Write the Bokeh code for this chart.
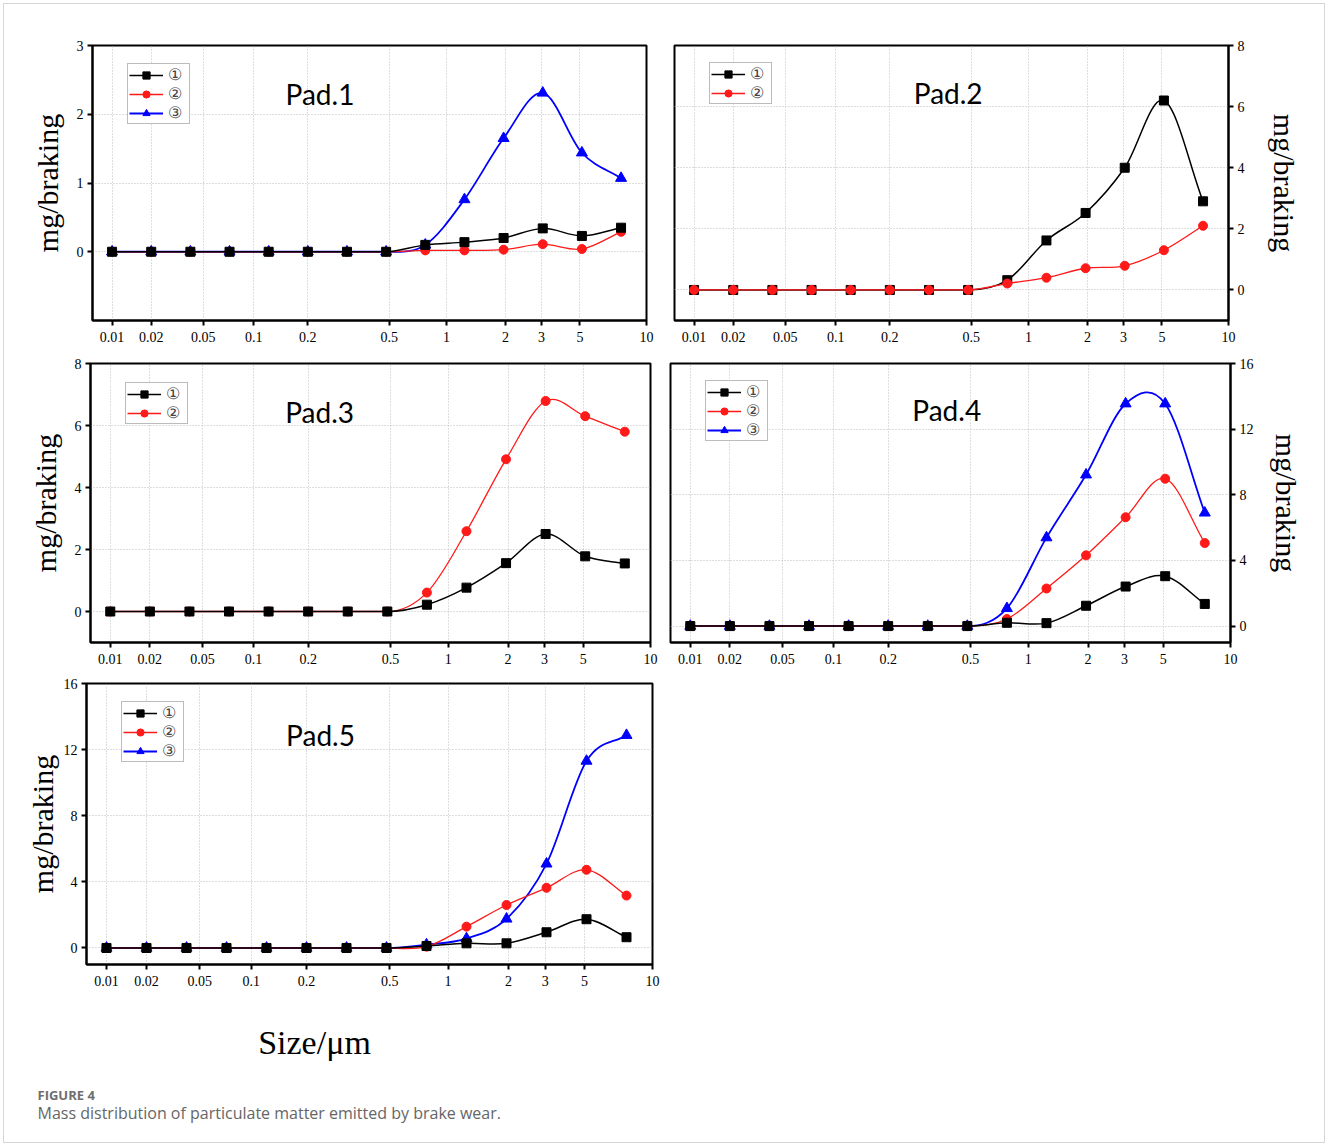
import numpy as np
from bokeh.plotting import figure
from bokeh.layouts import column, row
from bokeh.models import (Range1d, FixedTicker, Legend, LegendItem, Label,
                          ColumnDataSource)
from bokeh.embed import file_html
from bokeh.resources import INLINE

# ---------------- data ----------------
size_labels = ["0.01", "0.02", "0.05", "0.1", "0.2", "0.5", "1", "2", "3", "5", "10"]
size_tick_pos = [0.0, 1.0, 2.33, 3.62, 5.0, 7.08, 8.54, 10.05, 10.97, 11.95, 13.65]
stage = [0, 1, 2, 3, 4, 5, 6, 7, 8, 9, 10, 11, 12, 13]  # impactor stages, equally spaced

pad1_s1 = [0, 0, 0, 0, 0, 0, 0, 0, 0.10, 0.14, 0.20, 0.34, 0.23, 0.35]
pad1_s2 = [0, 0, 0, 0, 0, 0, 0, 0, 0.02, 0.02, 0.03, 0.11, 0.04, 0.29]
pad1_s3 = [0, 0, 0, 0, 0, 0, 0, 0, 0.10, 0.76, 1.65, 2.31, 1.44, 1.07]

pad2_s1 = [0, 0, 0, 0, 0, 0, 0, 0, 0.32, 1.62, 2.52, 4.00, 6.20, 2.90]
pad2_s2 = [0, 0, 0, 0, 0, 0, 0, 0, 0.21, 0.40, 0.71, 0.79, 1.30, 2.10]

pad3_s1 = [0, 0, 0, 0, 0, 0, 0, 0, 0.22, 0.77, 1.56, 2.50, 1.78, 1.55]
pad3_s2 = [0, 0, 0, 0, 0, 0, 0, 0, 0.61, 2.59, 4.91, 6.79, 6.30, 5.80]

pad4_s1 = [0, 0, 0, 0, 0, 0, 0, 0, 0.20, 0.18, 1.24, 2.41, 3.04, 1.35]
pad4_s2 = [0, 0, 0, 0, 0, 0, 0, 0, 0.43, 2.29, 4.31, 6.63, 8.98, 5.06]
pad4_s3 = [0, 0, 0, 0, 0, 0, 0, 0, 1.08, 5.39, 9.22, 13.55, 13.55, 6.90]

pad5_s1 = [0, 0, 0, 0, 0, 0, 0, 0, 0.12, 0.28, 0.28, 0.95, 1.74, 0.65]
pad5_s2 = [0, 0, 0, 0, 0, 0, 0, 0, 0.08, 1.29, 2.60, 3.64, 4.73, 3.17]
pad5_s3 = [0, 0, 0, 0, 0, 0, 0, 0, 0.20, 0.57, 1.76, 5.09, 11.31, 12.87]

series_labels = ["\u2460", "\u2461", "\u2462"]
# ----------------------------------------------------------------

STYLE = {
    0: dict(color="#000000", marker="square", size=9, lw=1.5),
    1: dict(color="#ff1a1a", marker="circle", size=9, lw=1.3),
    2: dict(color="#0000ff", marker="triangle", size=11, lw=1.8),
}
SERIF = "Liberation Serif"


def smooth_source(xs, ys):
    """Cubic Bezier segments through the data points (Catmull-Rom tangents)."""
    x = np.asarray(xs, float)
    y = np.asarray(ys, float)
    n = len(x)
    m = np.zeros(n)
    for i in range(n):
        if i == 0:
            m[i] = (y[1] - y[0]) / (x[1] - x[0])
        elif i == n - 1:
            m[i] = (y[-1] - y[-2]) / (x[-1] - x[-2])
        elif y[i - 1] == 0 and y[i] == 0:
            m[i] = 0.0
        else:
            m[i] = (y[i + 1] - y[i - 1]) / (x[i + 1] - x[i - 1])
    dx = x[1:] - x[:-1]
    return ColumnDataSource(dict(
        x0=x[:-1], y0=y[:-1], x1=x[1:], y1=y[1:],
        cx0=x[:-1] + dx / 3, cy0=y[:-1] + m[:-1] * dx / 3,
        cx1=x[1:] - dx / 3, cy1=y[1:] - m[1:] * dx / 3))


def make_panel(width, height, borders, yrange, yticks, side, series, order,
               pad_text, pad_xy, legend_top, label_standoff):
    left, right, top, bottom = borders
    p = figure(width=width, height=height,
               x_range=Range1d(-0.5, 13.65), y_range=Range1d(*yrange),
               y_axis_location=side, output_backend="svg", toolbar_location=None,
               min_border_left=left, min_border_right=right,
               min_border_top=top, min_border_bottom=bottom)
    p.background_fill_color = "white"
    p.border_fill_color = None
    p.outline_line_color = "black"
    p.outline_line_width = 2

    p.xaxis.ticker = FixedTicker(ticks=size_tick_pos)
    p.xaxis.major_label_overrides = {pos: lab for pos, lab in zip(size_tick_pos, size_labels)}
    p.yaxis.ticker = FixedTicker(ticks=yticks)
    for ax in p.axis:
        ax.axis_line_width = 2
        ax.axis_line_color = "black"
        ax.major_tick_line_width = 2
        ax.major_tick_out = 5
        ax.major_tick_in = 0
        ax.minor_tick_out = 0
        ax.minor_tick_in = 0
        ax.major_label_text_font = SERIF
        ax.major_label_text_font_size = "14px"
        ax.major_label_text_color = "black"
    p.xaxis.major_label_standoff = 6
    p.yaxis.major_label_standoff = 4
    p.yaxis.axis_label = "mg/braking"
    p.yaxis.axis_label_text_font = SERIF
    p.yaxis.axis_label_text_font_size = "30px"
    p.yaxis.axis_label_text_font_style = "normal"
    p.yaxis.axis_label_text_color = "black"
    p.yaxis.axis_label_standoff = label_standoff

    p.xgrid.ticker = FixedTicker(ticks=size_tick_pos)
    p.ygrid.ticker = FixedTicker(ticks=yticks)
    for g in p.grid:
        g.grid_line_color = "#bdbdbd"
        g.grid_line_dash = "1 2"
        g.grid_line_width = 1

    rends = {}
    for k in order:
        st = STYLE[k]
        src = smooth_source(stage, series[k])
        b = p.bezier(x0="x0", y0="y0", x1="x1", y1="y1", cx0="cx0", cy0="cy0",
                     cx1="cx1", cy1="cy1", source=src,
                     line_color=st["color"], line_width=st["lw"])
        s = p.scatter(stage, series[k], marker=st["marker"], size=st["size"],
                      fill_color=st["color"], line_color=st["color"])
        rends[k] = [b, s]

    items = [LegendItem(label=series_labels[k], renderers=rends[k]) for k in range(len(series))]
    n = len(series)
    frame_h = height - top - bottom
    leg_h = 3 + 18 * n
    legend = Legend(items=items, location=(35, frame_h - legend_top - leg_h),
                    label_text_font=SERIF, label_text_font_size="16px",
                    glyph_width=34, glyph_height=18, label_height=18,
                    label_standoff=5, padding=1, spacing=0, margin=0,
                    border_line_color="#7a7a7a", border_line_width=1,
                    background_fill_color="white", background_fill_alpha=1)
    p.add_layout(legend)

    p.add_layout(Label(x=pad_xy[0], y=pad_xy[1], text=pad_text, text_font="Lato",
                       text_font_size="28px", text_align="center",
                       text_baseline="middle", text_color="black"))
    return p


p1 = make_panel(660, 350, (92, 14, 45, 30), (-1, 3), [0, 1, 2, 3], "left",
                [pad1_s1, pad1_s2, pad1_s3], [2, 1, 0], "Pad.1", (5.31, 2.30), 22, 10)
p2 = make_panel(668, 350, (14, 100, 45, 28), (-1, 8), [0, 2, 4, 6, 8], "right",
                [pad2_s1, pad2_s2], [0, 1], "Pad.2", (6.49, 6.45), 22, 20)
p3 = make_panel(660, 322, (90, 10, 12, 30), (-1, 8), [0, 2, 4, 6, 8], "left",
                [pad3_s1, pad3_s2], [1, 0], "Pad.3", (5.29, 6.45), 23, 10)
p4 = make_panel(668, 322, (10, 98, 13, 30), (-1, 16), [0, 4, 8, 12, 16], "right",
                [pad4_s1, pad4_s2, pad4_s3], [2, 1, 0], "Pad.4", (6.48, 13.15), 21, 13)
p5 = make_panel(660, 328, (86, 8, 11, 36), (-1, 16), [0, 4, 8, 12, 16], "left",
                [pad5_s1, pad5_s2, pad5_s3], [2, 1, 0], "Pad.5", (5.35, 12.9), 22, 2)

cap = figure(width=1328, height=146, x_range=Range1d(0, 1328),
             y_range=Range1d(146, 0), x_axis_location=None, y_axis_location=None,
             output_backend="svg", toolbar_location=None,
             min_border_left=0, min_border_right=0, min_border_top=0, min_border_bottom=0)
cap.grid.visible = False
cap.outline_line_color = None
cap.background_fill_color = None
cap.border_fill_color = None
cap.add_layout(Label(x=314, y=42, text="Size/\u03bcm", text_font=SERIF, text_font_size="34px",
                     text_align="center", text_baseline="middle", text_color="black"))
cap.add_layout(Label(x=37, y=94, text="FIGURE 4", text_font="Open Sans", text_font_size="13px",
                     text_font_style="bold", text_align="left", text_baseline="middle",
                     text_color="#6e6e6e"))
cap.add_layout(Label(x=37, y=112, text="Mass distribution of particulate matter emitted by brake wear.",
                     text_font="Open Sans", text_font_size="16px", text_align="left",
                     text_baseline="middle", text_color="#666666"))

layout = column(row(p1, p2, spacing=0), row(p3, p4, spacing=0), row(p5), row(cap), spacing=0,
                styles={"outline": "1px solid #d6d6d6", "outline-offset": "-4px"})

open("out.html", "w").write(file_html(layout, INLINE))
